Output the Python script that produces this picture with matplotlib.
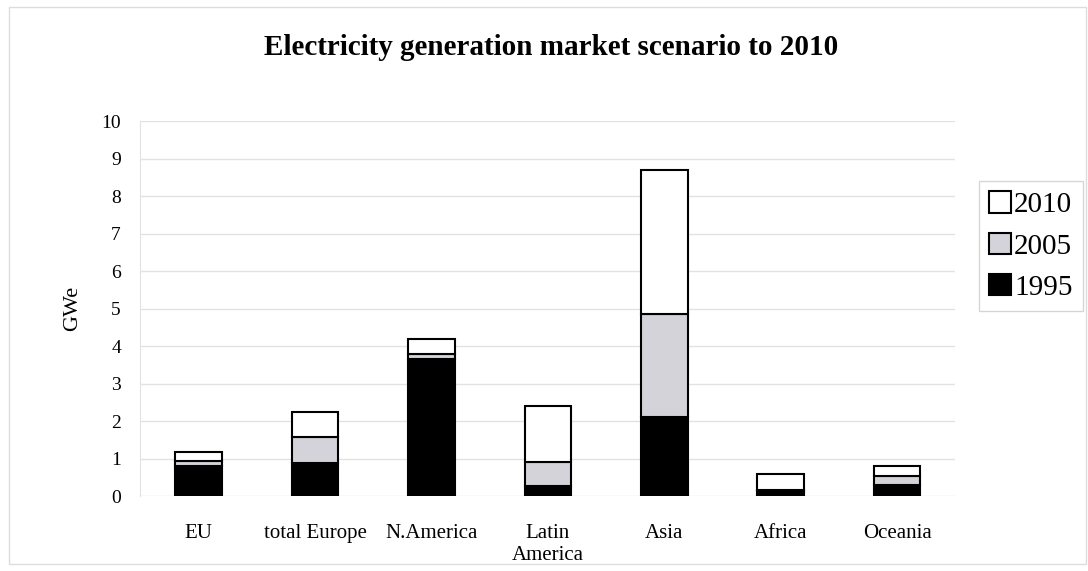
import numpy as np
import matplotlib.pyplot as plt

plt.rcParams['font.family'] = ['Liberation Serif', 'DejaVu Serif']

regions = ['EU', 'total Europe', 'N.America', 'Latin\nAmerica', 'Asia', 'Africa', 'Oceania']
# stacked segments, GWe
gw_1995 = [0.80, 0.89, 3.65, 0.28, 2.11, 0.15, 0.29]
gw_2005 = [0.14, 0.68, 0.14, 0.62, 2.75, 0.02, 0.25]
gw_2010 = [0.25, 0.67, 0.40, 1.50, 3.83, 0.41, 0.27]

x = np.arange(len(regions))
b1995 = np.array(gw_1995)
b2005 = b1995 + np.array(gw_2005)

fig = plt.figure(figsize=(10.88, 5.71), dpi=100)
ax = fig.add_axes([0.129, 0.131, 0.749, 0.657])

w = 0.4
ax.bar(x, gw_1995, w, color='black', edgecolor='black', linewidth=1.5, label='1995', zorder=3)
ax.bar(x, gw_2005, w, bottom=b1995, color='#d3d3d9', edgecolor='black', linewidth=1.5, label='2005', zorder=3)
ax.bar(x, gw_2010, w, bottom=b2005, color='white', edgecolor='black', linewidth=1.5, label='2010', zorder=3)

ax.set_xlim(-0.5, len(regions) - 0.5)
ax.set_ylim(0, 10)
ax.set_yticks(range(0, 11))
ax.set_xticks(x)
ax.set_xticklabels(regions, fontsize=15, linespacing=1.25)
ax.tick_params(axis='y', labelsize=14, length=0, pad=14)
ax.tick_params(axis='x', length=0, pad=20)
ax.grid(axis='y', color='#e2e2e2', linewidth=1, zorder=0)
for s in ['top', 'right', 'bottom']:
    ax.spines[s].set_visible(False)
ax.spines['left'].set_color('#e2e2e2')
ax.set_ylabel('GWe', fontsize=16, labelpad=14)

fig.suptitle('Electricity generation market scenario to 2010', x=0.507, y=0.94,
             fontsize=21, fontweight='bold')

h, l = ax.get_legend_handles_labels()
leg = fig.legend(h[::-1], l[::-1], loc='upper left', bbox_to_anchor=(0.9, 0.683),
                 fontsize=21, frameon=True, fancybox=False, edgecolor='#cccccc',
                 handlelength=0.75, handleheight=0.75, handletextpad=0.1,
                 labelspacing=0.5, borderpad=0.35, borderaxespad=0)
leg.get_frame().set_linewidth(1)

# outer chart border
fig.patches.append(plt.Rectangle((0.008, 0.012), 0.99, 0.975, transform=fig.transFigure,
                                 fill=False, edgecolor='#dddddd', linewidth=1))

fig.savefig('out.png', dpi=100)
